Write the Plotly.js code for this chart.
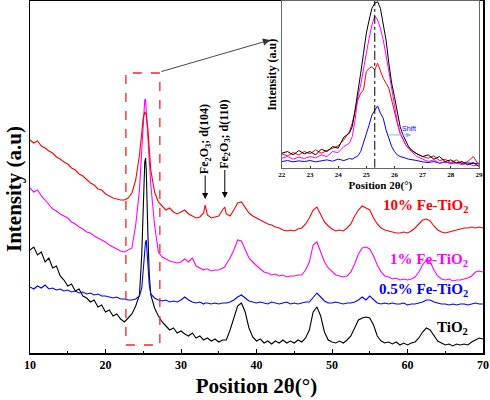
<!DOCTYPE html>
<html>
<head>
<meta charset="utf-8">
<script src="https://cdn.plot.ly/plotly-3.0.1.min.js"></script>
<style>html,body{margin:0;padding:0;background:#fff;}#chart{width:490px;height:400px;}</style>
</head>
<body>
<div id="chart"></div>
<script>
// ---- Main pattern: 2θ positions (degrees) ----
const twoTheta = [10,10.5,11,11.5,12,12.5,13,13.5,14,14.5,
  15,15.5,16,16.5,17,17.5,18,18.5,19,19.5,
  20,20.5,21,21.5,22,22.5,23,23.5,24,
  24.5,24.8,25,25.2,25.3,25.4,25.6,25.8,
  26,26.5,27,27.5,28,28.5,29,29.5,30,30.5,31,31.5,32,32.5,33,
  33.2,
  33.5,34,34.5,35,35.5,
  35.8,
  36,36.5,37,37.5,38,38.5,39,39.5,40,40.5,
  41,41.5,42,42.5,43,43.5,44,44.5,45,45.5,
  46,46.5,47,47.5,48,48.5,49,49.5,50,50.5,
  51,51.5,52,52.5,53,53.5,54,54.5,55,55.5,
  56,56.5,57,57.5,58,58.5,59,59.5,60,60.5,
  61,61.5,62,62.5,63,63.5,64,64.5,65,65.5,
  66,66.5,67,67.5,68,68.5,69,69.5,70];

const intTiO2 = [103,106,98,101,91,95,85,87,77,73,
  67,69,62,64,57,55,51,53,46,48,
  41,43,37,39,34,31,35,39,47,
  58,98,153,191,195,183,123,78,
  58,45,37,31,27,23,25,20,22,19,17,20,15,17,13,
  14,
  15,12,14,11,13,
  13,
  13,23,35,47,50,41,25,16,12,14,
  10,12,9,12,10,13,10,12,10,13,
  11,15,23,41,46,37,21,13,11,10,
  12,10,13,17,25,33,35,36,35,28,
  17,12,10,11,9,11,8,10,8,10,
  11,15,21,25,23,17,12,10,8,9,
  7,9,8,9,8,11,13,15,14];

const intFe05 = [66,64,67,65,68,64,65,63,64,62,
  63,61,62,60,61,59,60,58,59,57,
  57,56,55,56,54,54,53,53,54,
  57,65,83,105,111,113,91,68,
  59,55,53,52,53,51,52,51,53,56,53,51,50,51,49,
  50,
  50,49,50,49,50,
  50,
  50,51,53,56,58,55,52,51,50,51,
  50,49,51,50,49,50,51,49,50,49,
  50,51,51,55,60,56,52,50,50,51,
  50,49,50,50,51,53,56,53,57,53,
  50,49,50,49,50,49,49,50,48,49,
  49,50,51,53,53,51,50,49,49,48,
  49,48,49,49,48,49,50,49,49];

const intFe1 = [165,161,163,157,153,148,144,142,139,137,
  135,131,129,126,124,121,120,117,115,113,
  111,108,106,104,102,101,103,105,128,
  163,203,235,253,254,243,223,198,
  168,128,101,96,94,92,91,90,91,94,91,95,87,85,83,
  84,
  84,82,83,83,85,
  86,
  89,95,103,113,112,103,95,91,87,84,
  81,80,78,79,77,78,76,77,77,78,
  78,83,91,108,111,101,91,85,81,78,
  77,76,77,81,89,99,105,106,104,97,
  88,81,77,76,74,75,73,74,73,74,
  76,81,88,93,91,83,77,74,73,74,
  72,73,73,74,75,77,81,82,81];

const intFe10 = [213,210,212,207,205,202,200,196,194,191,
  189,185,183,179,177,173,170,168,164,163,
  159,157,155,154,153,153,155,160,173,
  198,218,235,241,240,238,225,203,
  183,161,151,147,143,145,141,139,141,143,139,137,135,136,140,
  148,
  138,135,136,137,143,
  146,
  139,137,143,150,151,145,140,137,135,133,
  131,129,128,126,125,123,122,123,122,124,
  125,129,135,143,146,139,131,127,124,122,
  123,122,125,129,137,143,147,145,143,135,
  129,125,123,122,121,120,120,121,120,122,
  125,129,133,134,132,127,123,121,120,121,
  122,123,124,125,125,126,125,126,125];

// ---- Inset: zoom on the (101) anatase peak ----
const insetTheta = [22,22.2,22.4,22.6,22.8,23,23.2,23.4,23.6,23.8,24,24.2,24.4,
  24.5,24.6,24.7,24.8,24.9,25,25.1,25.2,25.3,25.4,25.5,25.6,25.7,25.8,25.9,26,26.1,26.2,26.3,26.4,26.5,26.6,
  26.8,27,27.2,27.4,27.6,27.8,28,28.2,28.4,28.6,28.8,29];

const insTiO2 = [14.7,16.3,13,17.3,14,16.3,13,18.7,16.3,21.3,19.7,30.7,34.7,
  41.3,58,74.7,94.7,114.7,134.7,148,159.7,164.7,166.3,159.7,143,128,104.7,84.7,71.3,54.7,41.3,33,26.3,21.3,18,
  14,11.3,13,8.7,11.3,6.3,8,4.7,6.3,3,5.3,1.3];

const insFe1 = [9.7,11.3,8.7,10.7,9.3,11.3,10,13,11.3,16.3,15.3,21.3,24.7,
  31.3,48,71.3,83,101.3,114.7,129.7,143,152,148,139.7,128,113,96.3,76.3,61.3,46.3,34.7,28,23,19.7,16.3,
  11.3,8.7,6.3,8,4.7,6.3,4,5.3,3,4.7,2,3];

const insFe10 = [14,12,15.3,13,16.3,14,18,14.7,17.3,19.7,22,28,36.3,
  44.7,58,68,74.7,78,96.3,99.7,101.3,98,104.7,96.3,89.7,84.7,79.7,68,54.7,44.7,34.7,28,23,19.7,17.3,
  14,11.3,9.7,12,7.3,8.7,5.3,8,4,6.3,11.3,3];

const insFe05 = [6.3,7.3,6,7,6.3,7.3,6,6.7,8,6.7,8.7,7.3,9.3,
  8.7,10.7,12,16.3,24.7,34.7,43,53,58,62,54.7,49.7,38,29.7,21.3,16.3,13,11.3,10.7,9.7,8.7,8,
  7.3,6,5.3,6.3,4.7,5.7,4.7,5.3,4.7,5,4.3,4.7];

const xTicks = [10,20,30,40,50,60,70];
const insetTicks = [22,23,24,25,26,27,28,29];
const peakPos = 25.3;

const C = {black:'#000000', blue:'#0000ff', magenta:'#ff00ff', red:'#ff0000'};
const serif = 'Liberation Serif, Times New Roman, serif';

const traces = [
  {x: twoTheta, y: intTiO2, mode:'lines', line:{color:C.black, width:1.1}, xaxis:'x', yaxis:'y', name:'TiO2'},
  {x: twoTheta, y: intFe1, mode:'lines', line:{color:C.magenta, width:1.1}, xaxis:'x', yaxis:'y', name:'1% Fe-TiO2'},
  {x: twoTheta, y: intFe10, mode:'lines', line:{color:C.red, width:1.1}, xaxis:'x', yaxis:'y', name:'10% Fe-TiO2'},
  {x: twoTheta, y: intFe05, mode:'lines', line:{color:C.blue, width:1.1}, xaxis:'x', yaxis:'y', name:'0.5% Fe-TiO2'},
  {x: insetTheta, y: insFe05, mode:'lines', line:{color:C.blue, width:1}, xaxis:'x2', yaxis:'y2', name:'0.5%'},
  {x: insetTheta, y: insFe10, mode:'lines', line:{color:C.red, width:1}, xaxis:'x2', yaxis:'y2', name:'10%'},
  {x: insetTheta, y: insFe1, mode:'lines', line:{color:C.magenta, width:1}, xaxis:'x2', yaxis:'y2', name:'1%'},
  {x: insetTheta, y: insTiO2, mode:'lines', line:{color:C.black, width:1}, xaxis:'x2', yaxis:'y2', name:'TiO2 inset'}
];

const layout = {
  width: 490, height: 400,
  margin: {l:30, r:7, t:1, b:47},
  paper_bgcolor:'#fff', plot_bgcolor:'#fff',
  showlegend:false,
  font:{family: serif, color:'#000'},
  xaxis: {
    domain:[0,1], range:[10,70], tickvals:xTicks, ticktext:xTicks.map(String),
    ticks:'inside', ticklen:4, tickwidth:1, tickcolor:'#000',
    minor:{dtick:5, ticks:'inside', ticklen:2, tickcolor:'#000'},
    showline:true, linecolor:'#000', linewidth:1.5, mirror:true,
    showgrid:false, zeroline:false,
    tickfont:{family:serif, size:12, color:'#000', weight:'bold'},
    title:{text:'<b>Position 2θ(°)</b>', font:{family:serif, size:21, color:'#000'}, standoff:7}
  },
  yaxis: {
    domain:[0,1], range:[0,352], showticklabels:false, ticks:'',
    showline:true, linecolor:'#000', linewidth:1.5, mirror:true,
    showgrid:false, zeroline:false
  },
  xaxis2: {
    domain:[0.556,0.991], anchor:'y2', range:[22,29], tickvals:insetTicks,
    ticks:'inside', ticklen:2, tickcolor:'#333',
    showline:true, linecolor:'#666', linewidth:1, mirror:true,
    showgrid:false, zeroline:false,
    tickfont:{family:serif, size:7, color:'#000', weight:'bold'},
    title:{text:'<b>Position 2θ(°)</b>', font:{family:serif, size:11, color:'#000'}, standoff:2}
  },
  yaxis2: {
    domain:[0.526,1], anchor:'x2', range:[0,167], showticklabels:false, ticks:'',
    showline:true, linecolor:'#666', linewidth:1, mirror:true,
    showgrid:false, zeroline:false
  },
  shapes: [
    {type:'rect', xref:'x', yref:'y', x0:22.7, x1:27.2, y0:8, y1:280,
     line:{color:'#ff2020', width:1.3, dash:'dash'}},
    {type:'line', xref:'x2', yref:'y2', x0:peakPos, x1:peakPos, y0:0, y1:167,
     line:{color:'#000', width:1, dash:'dashdot'}}
  ],
  annotations: [
    {xref:'paper', yref:'paper', x:-0.0353, y:0.466, xanchor:'center', yanchor:'middle',
     text:'<b>Intensity (a.u)</b>', textangle:-90,
     showarrow:false, font:{family:serif, size:21, color:'#000'}},
    {xref:'paper', yref:'paper', x:0.534, y:0.79, xanchor:'center', yanchor:'middle',
     text:'<b>Intensity (a.u)</b>', textangle:-90,
     showarrow:false, font:{family:serif, size:12, color:'#000'}},
    // connector arrow from zoom box to inset
    {xref:'x', yref:'y', x:41.8, y:313, axref:'x', ayref:'y', ax:27.2, ay:281, text:'',
     showarrow:true, arrowhead:2, arrowsize:1.6, arrowwidth:0.9, arrowcolor:'#333'},
    // Fe2O3 markers
    {xref:'x', yref:'y', x:33.2, y:154, text:'<b>Fe<sub>2</sub>O<sub>3</sub>; d(104)</b>', textangle:-90,
     showarrow:true, ax:0, ay:-60, arrowhead:2, arrowsize:1.2, arrowwidth:1, arrowcolor:'#000',
     font:{family:serif, size:12, color:'#000'}},
    {xref:'x', yref:'y', x:35.8, y:155, text:'<b>Fe<sub>2</sub>O<sub>3</sub>; d(110)</b>', textangle:-90,
     showarrow:true, ax:0, ay:-64, arrowhead:2, arrowsize:1.2, arrowwidth:1, arrowcolor:'#000',
     font:{family:serif, size:12, color:'#000'}},
    // series labels
    {xref:'x', yref:'y', x:68.3, y:147, xanchor:'right', text:'<b>10% Fe-TiO<sub>2</sub></b>',
     showarrow:false, font:{family:serif, size:15, color:C.red}},
    {xref:'x', yref:'y', x:68.3, y:93, xanchor:'right', text:'<b>1% Fe-TiO<sub>2</sub></b>',
     showarrow:false, font:{family:serif, size:15, color:C.magenta}},
    {xref:'x', yref:'y', x:68.3, y:63, xanchor:'right', text:'<b>0.5% Fe-TiO<sub>2</sub></b>',
     showarrow:false, font:{family:serif, size:15, color:C.blue}},
    {xref:'x', yref:'y', x:68.3, y:25, xanchor:'right', text:'<b>TiO<sub>2</sub></b>',
     showarrow:false, font:{family:serif, size:15, color:C.black}},
    // Shift note in inset
    {xref:'x2', yref:'y2', x:26.5, y:39, text:'Shift', showarrow:false,
     font:{family:'Liberation Sans, Arial, sans-serif', size:7, color:C.blue}},
    {xref:'x2', yref:'y2', x:26.6, y:33, axref:'x2', ayref:'y2', ax:25.75, ay:33, text:'',
     showarrow:true, arrowhead:2, arrowsize:1, arrowwidth:1, arrowcolor:'#99aaee'}
  ]
};

Plotly.newPlot('chart', traces, layout, {staticPlot:true, displayModeBar:false});
</script>
</body>
</html>
